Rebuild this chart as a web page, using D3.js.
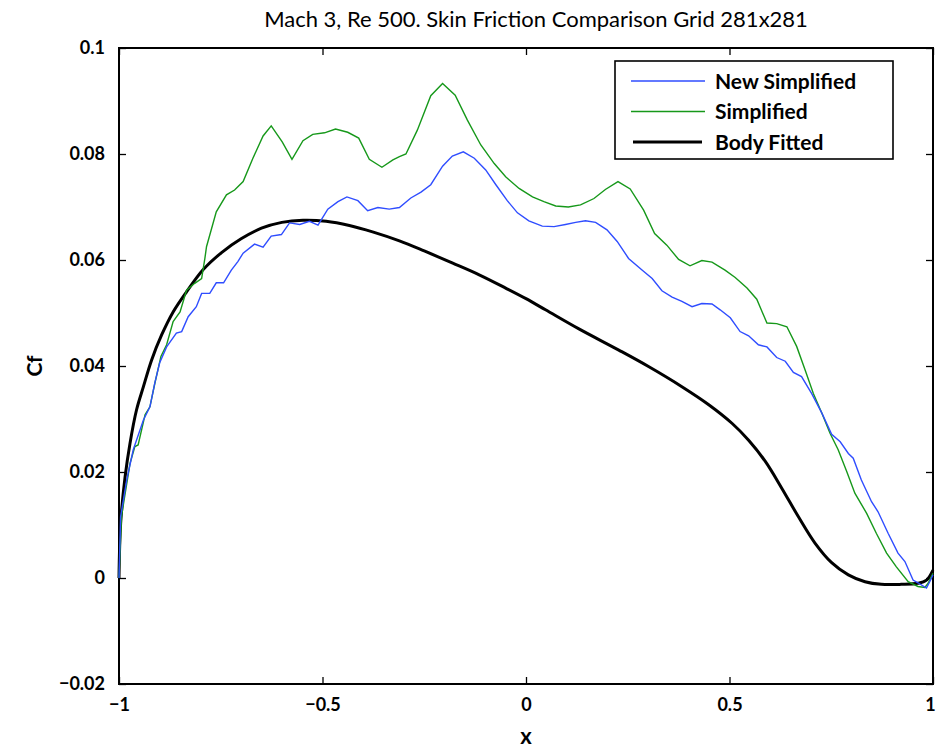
<!DOCTYPE html>
<html>
<head>
<meta charset="utf-8">
<script src="https://cdn.jsdelivr.net/npm/d3@7"></script>
<style>
  body { margin: 0; background: #fff; }
  text { font-family: Lato, "Open Sans", sans-serif; }
</style>
</head>
<body>
<div id="canvas"></div>
<script>
/*
 * Values
 *
 */
const xTicks = [-1, -0.5, 0, 0.5, 1];
const yTicks = [-0.02, 0, 0.02, 0.04, 0.06, 0.08, 0.1];
const seriesNames = ['New Simplified', 'Simplified', 'Body Fitted'];

const newSimpX = [-1, -0.996, -0.981, -0.965, -0.940, -0.924, -0.912, -0.900, -0.883, -0.859, -0.846, -0.830, -0.810, -0.797, -0.777, -0.761, -0.743, -0.724, -0.708, -0.695, -0.667, -0.646, -0.626, -0.601, -0.581, -0.556, -0.532, -0.511, -0.487, -0.462, -0.440, -0.413, -0.389, -0.364, -0.336, -0.311, -0.283, -0.258, -0.234, -0.205, -0.181, -0.154, -0.127, -0.099, -0.074, -0.046, -0.021, 0.007, 0.040, 0.069, 0.097, 0.122, 0.146, 0.171, 0.199, 0.224, 0.252, 0.285, 0.310, 0.334, 0.359, 0.383, 0.408, 0.432, 0.457, 0.477, 0.502, 0.526, 0.547, 0.571, 0.592, 0.616, 0.637, 0.657, 0.677, 0.702, 0.727, 0.751, 0.772, 0.792, 0.804, 0.824, 0.849, 0.865, 0.890, 0.914, 0.931, 0.951, 0.963, 0.984, 0.992, 1.0];
const newSimpY = [0, 0.0116, 0.0185, 0.0242, 0.0298, 0.0323, 0.0368, 0.0406, 0.0436, 0.0462, 0.0465, 0.0493, 0.0512, 0.0537, 0.0537, 0.0557, 0.0557, 0.0581, 0.0597, 0.0613, 0.063, 0.0624, 0.0645, 0.0648, 0.067, 0.0667, 0.0673, 0.0666, 0.0696, 0.0710, 0.0719, 0.0712, 0.0693, 0.0699, 0.0696, 0.0699, 0.0717, 0.0728, 0.0742, 0.0777, 0.0796, 0.0804, 0.0792, 0.0770, 0.0742, 0.0712, 0.0689, 0.0674, 0.0664, 0.0663, 0.0667, 0.0671, 0.0674, 0.0671, 0.0657, 0.0635, 0.0603, 0.0581, 0.0565, 0.0542, 0.0530, 0.0522, 0.0512, 0.0518, 0.0517, 0.0506, 0.0491, 0.0465, 0.0457, 0.0440, 0.0436, 0.0416, 0.0409, 0.0388, 0.0380, 0.0348, 0.0311, 0.0271, 0.0257, 0.0235, 0.0226, 0.0185, 0.0144, 0.0125, 0.0084, 0.0047, 0.0031, -0.0004, -0.0009, -0.0019, -0.0007, 0.0006];

const simpX = [-1, -0.994, -0.973, -0.961, -0.953, -0.936, -0.924, -0.912, -0.897, -0.883, -0.867, -0.850, -0.834, -0.814, -0.797, -0.789, -0.785, -0.761, -0.736, -0.716, -0.695, -0.671, -0.646, -0.626, -0.599, -0.575, -0.548, -0.524, -0.495, -0.468, -0.438, -0.411, -0.385, -0.354, -0.327, -0.311, -0.295, -0.267, -0.234, -0.205, -0.174, -0.144, -0.111, -0.078, -0.050, -0.017, 0.016, 0.044, 0.073, 0.104, 0.134, 0.167, 0.195, 0.226, 0.256, 0.289, 0.316, 0.346, 0.375, 0.403, 0.432, 0.457, 0.489, 0.514, 0.543, 0.567, 0.592, 0.616, 0.641, 0.665, 0.686, 0.706, 0.727, 0.747, 0.767, 0.788, 0.808, 0.837, 0.861, 0.886, 0.910, 0.939, 0.963, 0.980, 0.988, 1.0];
const simpY = [0, 0.0116, 0.0216, 0.0248, 0.0251, 0.0308, 0.0323, 0.0367, 0.0418, 0.044, 0.0484, 0.0502, 0.0543, 0.0556, 0.0565, 0.0603, 0.0625, 0.0691, 0.0723, 0.0732, 0.0748, 0.0792, 0.0834, 0.0853, 0.0823, 0.079, 0.0825, 0.0837, 0.084, 0.0847, 0.0841, 0.083, 0.079, 0.0775, 0.0789, 0.0795, 0.080, 0.0845, 0.091, 0.0933, 0.0911, 0.0864, 0.0817, 0.0782, 0.0757, 0.0735, 0.0719, 0.071, 0.0702, 0.070, 0.0704, 0.0716, 0.0733, 0.0748, 0.0734, 0.0694, 0.065, 0.0628, 0.0601, 0.0589, 0.0599, 0.0596, 0.0581, 0.0567, 0.0547, 0.0526, 0.0481, 0.048, 0.0474, 0.0437, 0.0392, 0.0348, 0.0311, 0.0273, 0.0242, 0.0201, 0.016, 0.0122, 0.0084, 0.0047, 0.0021, -0.0007, -0.0016, -0.0018, -0.001, 0.0009];

const bodyX = [-1, -0.996, -0.985, -0.973, -0.957, -0.940, -0.920, -0.895, -0.867, -0.834, -0.793, -0.748, -0.700, -0.650, -0.600, -0.548, -0.491, -0.434, -0.377, -0.311, -0.250, -0.180, -0.115, -0.050, 0.0, 0.048, 0.13, 0.228, 0.301, 0.383, 0.449, 0.506, 0.547, 0.588, 0.628, 0.669, 0.710, 0.751, 0.792, 0.833, 0.873, 0.922, 0.963, 0.984, 1.0];
const bodyY = [0, 0.0103, 0.0191, 0.0254, 0.0317, 0.0361, 0.0411, 0.0459, 0.0502, 0.0540, 0.0582, 0.0614, 0.0640, 0.0660, 0.0671, 0.0675, 0.0673, 0.0665, 0.0653, 0.0636, 0.0617, 0.0594, 0.0572, 0.0547, 0.0527, 0.0506, 0.0470, 0.0430, 0.0399, 0.0361, 0.0327, 0.0292, 0.0260, 0.0220, 0.0170, 0.0116, 0.0066, 0.0029, 0.0006, -0.0007, -0.0012, -0.0012, -0.001, -0.0004, 0.0015];

/*
 * Layout
 *
 */
const color = ['#2f4dff', '#16981a', '#000000'];
const margin = { top: 48, right: 3, bottom: 65, left: 119 };
const svgWidth = 936,
  svgHeight = 749,
  width = svgWidth - margin.left - margin.right,
  height = svgHeight - margin.top - margin.bottom;

const svg = d3.select('#canvas').append('svg')
  .attr('width', svgWidth)
  .attr('height', svgHeight);

const g = svg.append('g')
  .attr('transform', `translate(${margin.left}, ${margin.top})`);

const xScale = d3.scaleLinear().domain([-1, 1]).range([0, width]);
const yScale = d3.scaleLinear().domain([-0.02, 0.1]).range([height, 0]);

const fmt = (d) => d < 0 ? '\u2212' + String(-d) : String(d);

/*
 * Axes: box with inward ticks on every side
 *
 */
const bottomAxis = g.append('g')
  .attr('class', 'axis')
  .attr('transform', `translate(0,${height})`)
  .call(d3.axisBottom(xScale).tickValues(xTicks).tickSize(-7).tickPadding(14).tickFormat(fmt));
g.append('g')
  .attr('class', 'axis')
  .call(d3.axisTop(xScale).tickValues(xTicks).tickSize(-7).tickFormat(''));
g.append('g')
  .attr('class', 'axis')
  .call(d3.axisLeft(yScale).tickValues(yTicks).tickSize(-7).tickPadding(14).tickFormat(fmt));
g.append('g')
  .attr('class', 'axis')
  .attr('transform', `translate(${width},0)`)
  .call(d3.axisRight(yScale).tickValues(yTicks).tickSize(-7).tickFormat(''));

g.selectAll('.axis .domain').remove();
g.selectAll('.axis line').attr('stroke', '#000').attr('stroke-width', 1.3);
g.selectAll('.axis text')
  .attr('fill', '#000')
  .style('font-size', '18px')
  .style('font-weight', '700');
// keep the last x label inside the picture
bottomAxis.selectAll('.tick text')
  .filter((d) => d === 1)
  .attr('dx', -3);

g.append('rect')
  .attr('width', width)
  .attr('height', height)
  .attr('fill', 'none')
  .attr('stroke', '#000')
  .attr('stroke-width', 2);

/*
 * Lines
 *
 */
const line = d3.line()
  .x((d) => xScale(d[0]))
  .y((d) => yScale(d[1]));

const smooth = d3.line()
  .x((d) => xScale(d[0]))
  .y((d) => yScale(d[1]))
  .curve(d3.curveCatmullRom.alpha(0.5));

g.append('path')
  .datum(d3.zip(bodyX, bodyY))
  .attr('d', smooth)
  .attr('fill', 'none')
  .attr('stroke', color[2])
  .attr('stroke-width', 3);

g.append('path')
  .datum(d3.zip(simpX, simpY))
  .attr('d', line)
  .attr('fill', 'none')
  .attr('stroke', color[1])
  .attr('stroke-width', 1.4);

g.append('path')
  .datum(d3.zip(newSimpX, newSimpY))
  .attr('d', line)
  .attr('fill', 'none')
  .attr('stroke', color[0])
  .attr('stroke-width', 1.4);

/*
 * Legend
 *
 */
const legend = svg.append('g')
  .attr('transform', 'translate(615, 61)');

legend.append('rect')
  .attr('width', 278)
  .attr('height', 98)
  .attr('fill', '#fff')
  .attr('stroke', '#000')
  .attr('stroke-width', 1.6);

seriesNames.forEach((name, i) => {
  const y = 20 + i * 30.5;
  legend.append('line')
    .attr('x1', i === 2 ? 18 : 16)
    .attr('x2', i === 2 ? 87 : 90)
    .attr('y1', y)
    .attr('y2', y)
    .attr('stroke', color[i])
    .attr('stroke-width', i === 2 ? 3 : 1.4);
  legend.append('text')
    .attr('x', 100)
    .attr('y', y)
    .attr('dy', '0.36em')
    .style('font-size', '21px')
    .style('font-weight', '700')
    .text(name);
});

/*
 * Titles
 *
 */
svg.append('text')
  .attr('x', 536)
  .attr('y', 27)
  .attr('text-anchor', 'middle')
  .style('font-size', '22px')
  .text('Mach 3, Re 500. Skin Friction Comparison Grid 281x281');

svg.append('text')
  .attr('x', margin.left + width / 2)
  .attr('y', 744)
  .attr('text-anchor', 'middle')
  .style('font-size', '22px')
  .style('font-weight', '700')
  .text('x');

svg.append('text')
  .attr('transform', `translate(42, ${margin.top + height / 2}) rotate(-90)`)
  .attr('text-anchor', 'middle')
  .style('font-size', '21px')
  .style('font-weight', '700')
  .text('Cf');
</script>
</body>
</html>
